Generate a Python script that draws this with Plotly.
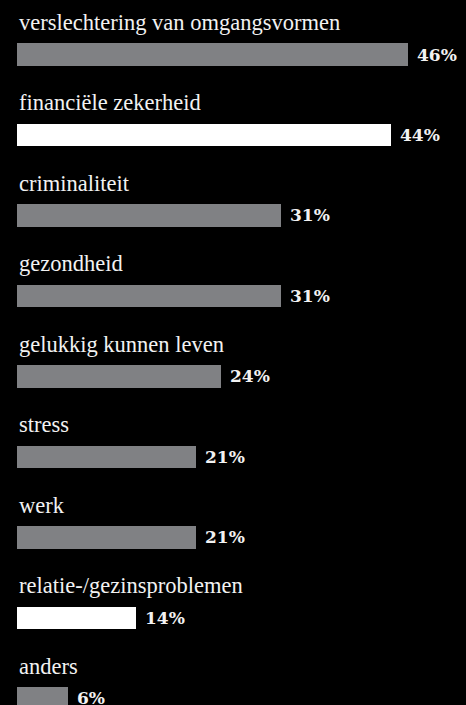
import plotly.graph_objects as go

categories = [
    "verslechtering van omgangsvormen",
    "financiële zekerheid",
    "criminaliteit",
    "gezondheid",
    "gelukkig kunnen leven",
    "stress",
    "werk",
    "relatie-/gezinsproblemen",
    "anders",
]
values = [46, 44, 31, 31, 24, 21, 21, 14, 6]
value_labels = ["46%", "44%", "31%", "31%", "24%", "21%", "21%", "14%", "6%"]
highlight = [False, True, False, False, False, False, False, True, False]

GRAY = "#808184"
WHITE = "#ffffff"
colors = [WHITE if h else GRAY for h in highlight]
positions = list(range(len(categories)))

fig = go.Figure(
    go.Bar(
        x=values,
        y=positions,
        orientation="h",
        marker=dict(color=colors, line=dict(width=0)),
        width=0.28,
        hoverinfo="skip",
    )
)

annotations = []
for pos, cat in zip(positions, categories):
    annotations.append(dict(
        x=0, y=pos - 0.40, xref="x", yref="y",
        text=cat, showarrow=False, xanchor="left", yanchor="middle",
        font=dict(family="Liberation Serif", size=22.5, color="#f2f2f2"),
    ))
for pos, val, lab in zip(positions, values, value_labels):
    annotations.append(dict(
        x=val, y=pos, xref="x", yref="y", xshift=7,
        text=lab, showarrow=False, xanchor="left", yanchor="middle",
        font=dict(family="DejaVu Serif", size=17, color="#f2f2f2", weight="bold"),
    ))

fig.update_layout(
    width=466, height=705,
    margin=dict(l=0, r=0, t=0, b=0),
    paper_bgcolor="#000000", plot_bgcolor="#000000",
    showlegend=False,
    bargap=0,
    xaxis=dict(range=[-17.3 / 8.5, (466 - 17.3) / 8.5], visible=False, fixedrange=True),
    yaxis=dict(range=[8.081, -0.677], visible=False, fixedrange=True),
    annotations=annotations,
)

fig.write_html(
    "out.html",
    config={"displayModeBar": False},
    post_script="document.body.style.margin='0';document.body.style.background='#000';document.body.style.overflow='hidden';",
)
